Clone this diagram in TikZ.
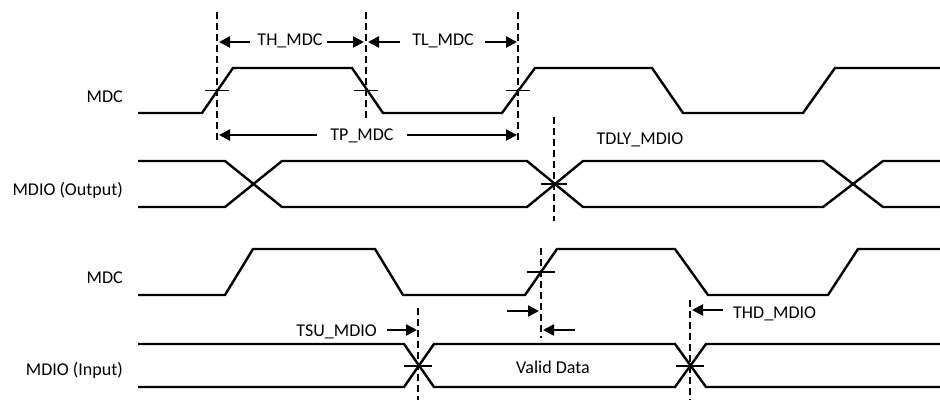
\documentclass[tikz,border=0pt]{standalone}
\usepackage{fontspec}
\setmainfont{Carlito}
\usetikzlibrary{arrows.meta}
\begin{document}
\begin{tikzpicture}[x=1pt,y=-1pt,
  wave/.style={line width=2.4pt, line join=miter},
  guide/.style={line width=1.8pt, dash pattern=on 7pt off 4pt},
  tick/.style={line width=1.4pt},
  dim/.style={line width=2.4pt, -{Triangle[length=11pt,width=11pt]}},
  lbl/.style={font=\fontsize{18}{21}\selectfont, inner sep=0pt}]
\useasboundingbox (0,0) rectangle (940,401);
% signal names
\node[lbl, anchor=base east] (n1) at (123,103) {MDC};
\node[lbl, anchor=base east] (n2) at (123,196) {MDIO (Output)};
\node[lbl, anchor=base east] (n3) at (123,283) {MDC};
\node[lbl, anchor=base east] (n4) at (123,375) {MDIO (Input)};
% waveforms
\draw[wave] (138,113)--(202,113)--(233,68)--(352,68)--(383,113)--(502,113)--(535,68)--(652,68)--(683,113)--(803,113)--(835,68)--(940,68);
\draw[wave] (138,161)--(225,161)--(282,207)--(527,207)--(583,161)--(823,161)--(883,207)--(940,207);
\draw[wave] (138,207)--(225,207)--(282,161)--(527,161)--(583,207)--(823,207)--(883,161)--(940,161);
\draw[wave] (138,295)--(225,295)--(253,249)--(375,249)--(403,295)--(525,295)--(557,249)--(675,249)--(708,295)--(828,295)--(858,249)--(940,249);
\draw[wave] (138,344)--(404,344)--(434,387)--(675,387)--(706,344)--(940,344);
\draw[wave] (138,387)--(404,387)--(434,344)--(675,344)--(706,387)--(940,387);
% guides
\coordinate (g1t) at (217,12); \coordinate (g1b) at (217,140);
\coordinate (g2t) at (366,12); \coordinate (g2b) at (366,118);
\coordinate (g3t) at (518,12); \coordinate (g3b) at (518,140);
\coordinate (g4t) at (554,117); \coordinate (g4b) at (554,221);
\coordinate (g5t) at (541,248); \coordinate (g5b) at (541,338);
\coordinate (g6t) at (418,308); \coordinate (g6b) at (418,400);
\coordinate (g7t) at (690,300); \coordinate (g7b) at (690,400);
\foreach \i in {1,...,7} \draw[guide] (g\i t)--(g\i b);
% ticks
\draw[tick] (205,90.5)--(229,90.5);
\draw[tick] (354,90.5)--(378,90.5);
\draw[tick] (506,90.5)--(530,90.5);
\draw[tick] (541,184)--(567,184);
\draw[tick] (527,272)--(555,272);
\draw[tick] (404,366)--(432,366);
\draw[tick] (676,366)--(704,366);
% dimension labels
\node[lbl, anchor=base] (th) at (290,46) {TH\_MDC};
\node[lbl, anchor=base] (tl) at (443,46) {TL\_MDC};
\node[lbl, anchor=base] (tp) at (362,141) {TP\_MDC};
\node[lbl, anchor=base] (tdly) at (640,145) {TDLY\_MDIO};
\node[lbl, anchor=base east] (tsu) at (377,336) {TSU\_MDIO};
\node[lbl, anchor=base west] (thd) at (733,318) {THD\_MDIO};
\node[lbl, anchor=base] (vd) at (553,373) {Valid Data};
% arrows
\coordinate (a1) at (250,42); \coordinate (b1) at (219,42);
\coordinate (a2) at (327,42); \coordinate (b2) at (364,42);
\coordinate (a3) at (400,42); \coordinate (b3) at (368,42);
\coordinate (a4) at (485,42); \coordinate (b4) at (517,42);
\coordinate (a5) at (317,135); \coordinate (b5) at (219,135);
\coordinate (a6) at (407,135); \coordinate (b6) at (517,135);
\coordinate (a7) at (507,311); \coordinate (b7) at (539,311);
\coordinate (a8) at (575,330); \coordinate (b8) at (543,330);
\coordinate (a9) at (387,330); \coordinate (b9) at (417,330);
\coordinate (a10) at (723,310); \coordinate (b10) at (692,310);
\foreach \i in {1,...,10} \draw[dim] (a\i)--(b\i);
\end{tikzpicture}
\end{document}
